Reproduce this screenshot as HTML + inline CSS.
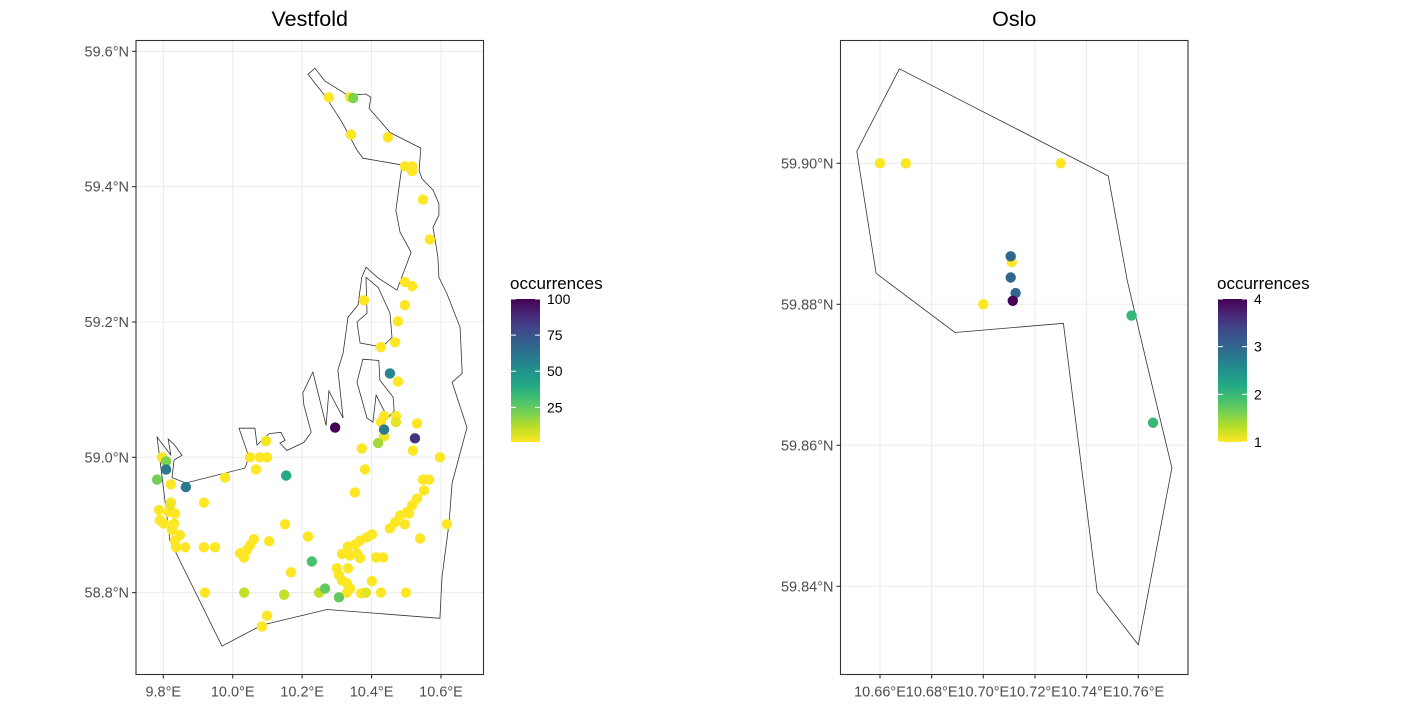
<!DOCTYPE html>
<html><head><meta charset="utf-8">
<style>
html,body{margin:0;padding:0;background:#fff;}
svg{display:block;font-family:"Liberation Sans",Arial,sans-serif;}
</style></head>
<body>
<svg id="chart" width="1402" height="707" viewBox="0 0 1402 707" xmlns="http://www.w3.org/2000/svg">
<defs>
<linearGradient id="vir" x1="0" y1="1" x2="0" y2="0">
<stop offset="0" stop-color="#fde725"/><stop offset="0.1" stop-color="#bddf26"/><stop offset="0.2" stop-color="#7ad151"/><stop offset="0.3" stop-color="#44bf70"/><stop offset="0.4" stop-color="#22a884"/><stop offset="0.5" stop-color="#21918c"/><stop offset="0.6" stop-color="#2a788e"/><stop offset="0.7" stop-color="#355f8d"/><stop offset="0.8" stop-color="#414487"/><stop offset="0.9" stop-color="#482475"/><stop offset="1" stop-color="#440154"/>
</linearGradient>
</defs>
</svg>
<script>
// ---------- Vestfold data ----------
const vLon = [10.277,10.338,10.347,10.341,10.447,10.496,10.517,10.517,10.548,10.568,10.378,10.496,10.517,10.496,10.476,10.427,10.468,10.453,10.476,10.436,10.470,10.427,10.470,10.531,10.295,10.436,10.436,10.419,10.525,10.372,10.519,10.597,10.096,10.050,10.079,10.099,9.796,9.808,9.808,9.782,9.822,9.865,9.978,10.067,10.154,10.381,10.352,10.548,10.566,10.551,10.531,10.517,10.502,10.482,10.508,10.468,10.453,10.496,10.617,10.540,9.822,9.819,9.788,9.816,9.834,9.790,9.802,9.831,9.825,9.848,9.834,9.837,9.863,9.917,9.917,9.949,10.151,10.061,10.050,10.041,10.021,10.033,10.105,10.217,10.332,10.352,10.367,10.387,10.401,10.315,10.338,10.358,10.367,10.413,10.433,10.228,10.168,10.300,10.332,10.306,10.315,10.329,10.338,10.329,10.401,10.370,10.384,10.427,10.499,9.920,10.033,10.148,10.249,10.266,10.306,10.099,10.084];
const vLat = [59.532,59.532,59.531,59.477,59.473,59.430,59.430,59.423,59.381,59.322,59.232,59.259,59.253,59.225,59.201,59.163,59.170,59.124,59.112,59.061,59.061,59.052,59.052,59.050,59.044,59.041,59.031,59.021,59.028,59.013,59.010,59.000,59.024,59.000,59.000,59.000,59.000,58.994,58.982,58.967,58.960,58.956,58.970,58.982,58.973,58.982,58.948,58.967,58.967,58.951,58.939,58.929,58.919,58.914,58.917,58.904,58.895,58.901,58.901,58.880,58.933,58.929,58.922,58.919,58.917,58.907,58.902,58.902,58.892,58.885,58.877,58.867,58.867,58.933,58.867,58.867,58.901,58.879,58.870,58.863,58.858,58.852,58.876,58.883,58.868,58.871,58.877,58.882,58.886,58.857,58.855,58.858,58.851,58.852,58.852,58.846,58.830,58.836,58.836,58.826,58.818,58.814,58.806,58.800,58.817,58.799,58.800,58.800,58.800,58.800,58.800,58.797,58.800,58.806,58.793,58.766,58.750];
const vOcc = [1,1,20,1,1,1,1,1,1,1,1,1,1,1,1,1,1,55,1,1,1,1,5,1,100,60,3,15,85,2,1,1,2,1,1,1,1,20,60,22,1,60,1,1,40,1,1,1,1,1,1,1,1,1,1,1,1,1,1,1,1,3,1,1,1,1,1,1,1,1,1,1,1,1,1,1,1,1,1,1,1,1,1,1,1,1,1,1,1,1,1,1,1,1,1,30,1,1,1,1,1,1,1,1,1,1,5,1,1,1,10,10,10,25,25,1,1];
const vBorderLon = [10.217,10.237,10.266,10.332,10.384,10.398,10.393,10.453,10.542,10.537,10.545,10.577,10.594,10.594,10.577,10.591,10.594,10.617,10.655,10.661,10.632,10.675,10.632,10.623,10.603,10.597,10.272,10.084,9.969,9.819,9.782,9.822,9.814,9.831,9.854,9.831,9.825,9.865,10.035,10.047,10.018,10.064,10.070,10.105,10.139,10.151,10.136,10.156,10.205,10.226,10.205,10.202,10.231,10.269,10.277,10.318,10.303,10.318,10.332,10.361,10.372,10.384,10.419,10.473,10.514,10.482,10.470,10.479,10.488,10.375,10.358,10.315,10.269];
const vBorderLat = [59.566,59.575,59.556,59.535,59.537,59.532,59.516,59.480,59.457,59.424,59.412,59.395,59.375,59.358,59.340,59.296,59.266,59.242,59.192,59.124,59.111,59.044,58.962,58.902,58.823,58.762,58.775,58.752,58.721,58.877,59.030,59.003,59.027,59.019,59.003,58.996,58.970,58.962,58.984,59.000,59.043,59.043,59.018,59.035,59.037,59.025,59.021,59.010,59.022,59.037,59.077,59.095,59.126,59.047,59.098,59.058,59.129,59.154,59.207,59.225,59.266,59.281,59.265,59.247,59.303,59.333,59.365,59.399,59.432,59.442,59.454,59.495,59.532];
const vIslandLon = [10.384,10.419,10.453,10.459,10.430,10.367,10.358,10.387];
const vIslandLat = [59.266,59.251,59.213,59.177,59.163,59.169,59.200,59.213];
const vPenLon = [10.375,10.421,10.424,10.462,10.465,10.447,10.413,10.404,10.387,10.358];
const vPenLat = [59.145,59.143,59.114,59.089,59.069,59.058,59.092,59.052,59.058,59.111];
const vXTicks = [9.8,10.0,10.2,10.4,10.6];
const vXTickLabels = ["9.8°E","10.0°E","10.2°E","10.4°E","10.6°E"];
const vYTicks = [58.8,59.0,59.2,59.4,59.6];
const vYTickLabels = ["58.8°N","59.0°N","59.2°N","59.4°N","59.6°N"];
const vLegendTicks = [25,50,75,100];

// ---------- Oslo data ----------
const oLon = [10.660,10.670,10.730,10.700,10.711,10.7106,10.7106,10.7125,10.7114,10.7574,10.7657];
const oLat = [59.900,59.900,59.900,59.880,59.8860,59.8868,59.8838,59.8816,59.8805,59.8784,59.8632];
const oOcc = [1,1,1,1,1,3,3,3,4,2,2];
const oBorderLon = [10.6675,10.7484,10.7557,10.7630,10.7730,10.7600,10.7441,10.7310,10.6890,10.6585,10.6510];
const oBorderLat = [59.9134,59.8982,59.8834,59.8721,59.8568,59.8317,59.8392,59.8773,59.8760,59.8844,59.9017];
const oXTicks = [10.66,10.68,10.70,10.72,10.74,10.76];
const oXTickLabels = ["10.66°E","10.68°E","10.70°E","10.72°E","10.74°E","10.76°E"];
const oYTicks = [59.84,59.86,59.88,59.90];
const oYTickLabels = ["59.84°N","59.86°N","59.88°N","59.90°N"];
const oLegendTicks = [1,2,3,4];

const NS = "http://www.w3.org/2000/svg";
const svg = document.getElementById('chart');
function mk(tag, attrs, parent){
  const e = document.createElementNS(NS, tag);
  for (const k in attrs) e.setAttribute(k, attrs[k]);
  (parent||svg).appendChild(e);
  return e;
}
const VIR = ["#440154","#482475","#414487","#355f8d","#2a788e","#21918c","#22a884","#44bf70","#7ad151","#bddf26","#fde725"];
function hex(c){return [parseInt(c.substr(1,2),16),parseInt(c.substr(3,2),16),parseInt(c.substr(5,2),16)];}
function viridis(t){
  t=Math.max(0,Math.min(1,t));
  const p=t*10, i=Math.min(9,Math.floor(p)), f=p-i;
  const a=hex(VIR[i]), b=hex(VIR[i+1]);
  return "rgb("+a.map((v,k)=>Math.round(v+(b[k]-v)*f)).join(",")+")";
}

function panel(cfg){
  const g = mk('g',{});
  
  
  const X = cfg.x, Y = cfg.y;
  cfg.xTicks.forEach(v=>{
    const l=mk('line',{x1:X(v),x2:X(v),y1:cfg.top,y2:cfg.bottom,stroke:"#ebebeb","stroke-width":1},g);
    
    
  });
  cfg.yTicks.forEach(v=>{
    const l=mk('line',{x1:cfg.left,x2:cfg.right,y1:Y(v),y2:Y(v),stroke:"#ebebeb","stroke-width":1},g);
    
    
  });
  cfg.polys.forEach(p=>{
    const pts=p[0].map((lo,i)=>X(lo).toFixed(1)+","+Y(p[1][i]).toFixed(1)).join(" ");
    const pg=mk('polygon',{points:pts,fill:"none",stroke:"#333","stroke-width":0.8},g);
    
    
  });
  const idx=cfg.occ.map((v,i)=>i).sort((a,b)=>cfg.occ[a]-cfg.occ[b]);
  idx.forEach(i=>{
    const t=1-(cfg.occ[i]-cfg.min)/(cfg.max-cfg.min);
    const c=mk('circle',{cx:X(cfg.lon[i]),cy:Y(cfg.lat[i]),r:5.2,fill:viridis(t)},g);
    
    
  });
  const b=mk('rect',{x:cfg.left,y:cfg.top,width:cfg.right-cfg.left,height:cfg.bottom-cfg.top,fill:"none",stroke:"#333","stroke-width":1.1},g);
  
  
  cfg.xTicks.forEach((v,i)=>{
    const tk=mk('line',{x1:X(v),x2:X(v),y1:cfg.bottom,y2:cfg.bottom+4,stroke:"#333","stroke-width":1.1},g);
    
    
    const tx=mk('text',{x:X(v),y:cfg.bottom+22,"text-anchor":"middle","font-size":14.5,fill:"#4d4d4d"},g);
    tx.textContent=cfg.xLabels[i];
    
    
  });
  cfg.yTicks.forEach((v,i)=>{
    const tk=mk('line',{x1:cfg.left-4,x2:cfg.left,y1:Y(v),y2:Y(v),stroke:"#333","stroke-width":1.1},g);
    
    
    const tx=mk('text',{x:cfg.left-7,y:Y(v)+5,"text-anchor":"end","font-size":14.5,fill:"#4d4d4d"},g);
    tx.textContent=cfg.yLabels[i];
    
    
  });
  const tt=mk('text',{x:(cfg.left+cfg.right)/2,y:26,"text-anchor":"middle","font-size":21.5,fill:"#000"},g);
  tt.textContent=cfg.title;
  
  
  const lg=mk('g',{},g);
  
  
  const lt=mk('text',{x:cfg.lx-1,y:289,"font-size":17,fill:"#000"},lg);
  lt.textContent="occurrences";
  
  
  const top=299, bot=442, lx=cfg.lx, w=29;
  const bar=mk('rect',{x:lx,y:top,width:w,height:bot-top,fill:"url(#vir)"},lg);
  
  
  const LY=v=>bot-(v-cfg.min)/(cfg.max-cfg.min)*(bot-top);
  cfg.legendTicks.forEach(v=>{
    const y=LY(v);
    mk('line',{x1:lx,x2:lx+5,y1:y,y2:y,stroke:"#fff","stroke-width":1},lg);
    mk('line',{x1:lx+w-5,x2:lx+w,y1:y,y2:y,stroke:"#fff","stroke-width":1},lg);
    const t=mk('text',{x:lx+w+7,y:y+5,"font-size":14,fill:"#000"},lg);
    t.textContent=String(v);
    
    
  });
}

panel({
  name:"vestfold", title:"Vestfold",
  left:136, right:483.5, top:40.5, bottom:674.5,
  x:lon=>163.3+(lon-9.8)*347.1,
  y:lat=>457.3-(lat-59.0)*676.6,
  xTicks:vXTicks, xLabels:vXTickLabels, yTicks:vYTicks, yLabels:vYTickLabels,
  lon:vLon, lat:vLat, occ:vOcc, min:1, max:100,
  polys:[[vBorderLon,vBorderLat],[vIslandLon,vIslandLat],[vPenLon,vPenLat]],
  lx:511, legendTicks:vLegendTicks
});
panel({
  name:"oslo", title:"Oslo",
  left:840.5, right:1188, top:40.5, bottom:674.5,
  x:lon=>880+(lon-10.66)*2583,
  y:lat=>163.3-(lat-59.90)*7050,
  xTicks:oXTicks, xLabels:oXTickLabels, yTicks:oYTicks, yLabels:oYTickLabels,
  lon:oLon, lat:oLat, occ:oOcc, min:1, max:4,
  polys:[[oBorderLon,oBorderLat]],
  lx:1218, legendTicks:oLegendTicks
});
</script>
</body></html>
